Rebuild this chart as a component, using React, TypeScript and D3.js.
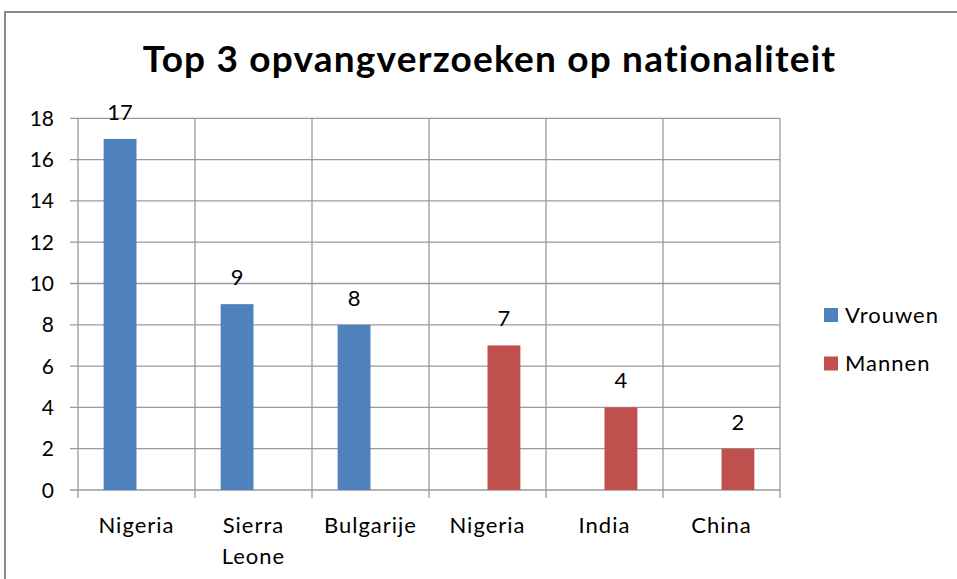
import React from "react";
import * as d3 from "d3";

const categories = ["Nigeria", "Sierra Leone", "Bulgarije", "Nigeria", "India", "China"];
const seriesNames = ["Vrouwen", "Mannen"];
const vrouwen: (number | null)[] = [17, 9, 8, null, null, null];
const mannen: (number | null)[] = [null, null, null, 7, 4, 2];
const yTicks = [0, 2, 4, 6, 8, 10, 12, 14, 16, 18];
const colors = ["#4F81BD", "#C0504D"];
const title = "Top 3 opvangverzoeken op nationaliteit";

const W = 957;
const H = 579;
const FONT = "Lato, 'Open Sans', sans-serif";

export default function App() {
  const left = 78, right = 780, top = 118.3, bottom = 490;
  const x = d3.scaleBand<number>().domain(d3.range(categories.length)).range([left, right]).padding(0);
  const xs = d3.scaleBand<string>().domain(seriesNames).range([0, x.bandwidth()]).paddingInner(0).paddingOuter(0.78);
  const y = d3.scaleLinear().domain([0, 18]).range([bottom, top]);
  const series = [vrouwen, mannen];
  const grid = "#9a9a9a";

  return (
    <svg width={W} height={H} style={{ position: "absolute", left: 0, top: 0, background: "#fff" }} fontFamily={FONT}>
      <rect x={5} y={12} width={W} height={H} fill="#fff" stroke="#8a8a8a" strokeWidth={2} />
      <text x={489.5} y={72} textAnchor="middle" fontSize={37} fontWeight="bold" letterSpacing={1.2} fill="#000">{title}</text>
      {/* horizontal gridlines and y ticks */}
      {yTicks.map((t) => (
        <g key={"y" + t}>
          <line x1={left - 8} x2={right} y1={y(t)} y2={y(t)} stroke={grid} strokeWidth={1.3} />
          <text x={54} y={y(t)} dy="0.36em" textAnchor="end" fontSize={21} fill="#000">{t}</text>
        </g>
      ))}
      {/* vertical gridlines at category boundaries */}
      {d3.range(categories.length + 1).map((i) => {
        const xx = i < categories.length ? (x(i) as number) : right;
        return <line key={"v" + i} x1={xx} x2={xx} y1={top} y2={bottom + 8} stroke={grid} strokeWidth={1.3} />;
      })}
      {/* bars */}
      {series.map((vals, si) =>
        vals.map((v, i) =>
          v == null ? null : (
            <g key={si + "-" + i}>
              <rect
                x={(x(i) as number) + (xs(seriesNames[si]) as number)}
                y={y(v)}
                width={xs.bandwidth()}
                height={y(0) - y(v)}
                fill={colors[si]}
              />
              <text
                x={(x(i) as number) + (xs(seriesNames[si]) as number) + xs.bandwidth() / 2}
                y={y(v) - 19}
                textAnchor="middle"
                fontSize={22}
                fill="#000"
              >
                {v}
              </text>
            </g>
          )
        )
      )}
      {/* category labels */}
      {categories.map((c, i) => {
        const words = c.split(" ");
        return (
          <text key={"c" + i} x={(x(i) as number) + x.bandwidth() / 2} y={533} textAnchor="middle" fontSize={22} letterSpacing={1} fill="#000">
            {words.map((w, wi) => (
              <tspan key={wi} x={(x(i) as number) + x.bandwidth() / 2} dy={wi === 0 ? 0 : 31}>{w}</tspan>
            ))}
          </text>
        );
      })}
      {/* legend */}
      {seriesNames.map((s, si) => (
        <g key={"l" + s} transform={`translate(824, ${308 + si * 48.5})`}>
          <rect x={0} y={0} width={14} height={14} fill={colors[si]} />
          <text x={21} y={7} dy="0.36em" fontSize={22} letterSpacing={1} fill="#000">{s}</text>
        </g>
      ))}
    </svg>
  );
}
